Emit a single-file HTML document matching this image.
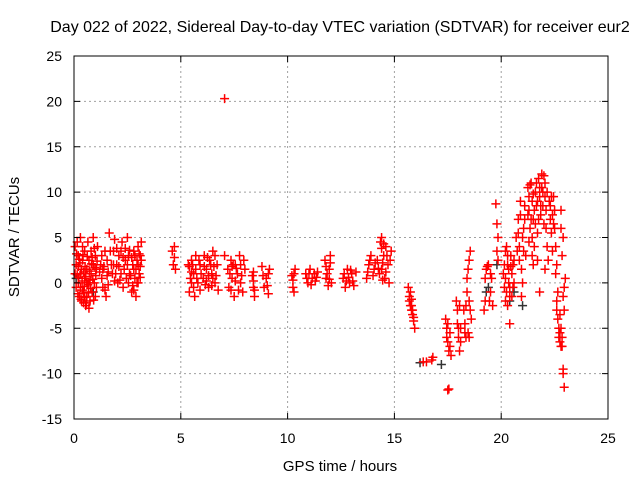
<!DOCTYPE html>
<html><head><meta charset="utf-8"><style>
body{margin:0;background:#fff}
svg{display:block;font-family:"Liberation Sans",sans-serif}
</style></head><body>
<svg width="640" height="480">
<rect width="640" height="480" fill="#fff"/>
<g id="grid"></g><g id="pts"></g><g id="axes"></g>
<text x="340" y="32" font-size="16" text-anchor="middle">Day 022 of 2022, Sidereal Day-to-day VTEC variation (SDTVAR) for receiver eur2</text>
<text x="340" y="471" font-size="15" text-anchor="middle">GPS time / hours</text>
<text x="0" y="0" font-size="15" text-anchor="middle" transform="translate(19,237) rotate(-90)">SDTVAR / TECUs</text>
</svg>
<script>
const xTicks=[0,5,10,15,20,25];
const yTicks=[-15,-10,-5,0,5,10,15,20,25];
const blackPts=[[0.1,0.5],[0.9,-1],[17.2,-9],[16.2,-8.8],[19.3,-1],[19.4,-0.5],[20.4,-2],[20.6,-1],[21,-2.5],[19.8,2]];
const redPts=[
[0.05,1],[0.05,4],[0.1,-0.5],[0.1,2],[0.15,4.5],[0.2,0],[0.2,3],[0.25,-1.5],[0.3,1],[0.3,5],[0.35,-2],[0.4,2.5],[0.4,4],[0.45,-1],[0.5,0.5],[0.5,3.5],[0.55,-2.5],[0.6,1.5],[0.6,-1.5],[0.65,4.5],[0.7,0],[0.7,2.5],[0.75,-2],[0.8,3.5],[0.8,1],[0.85,-1],[0.9,2],[0.9,5],[0.95,0],[1,3],[1,-1.5],[1.05,1.5],[1.1,4],[0.3,-0.5],[0.6,0],[0.2,1.8],[0.45,1.2],[0.75,0.3],[0.85,2.8],[1.05,-0.5],
[1.25,2],[1.35,-0.5],[1.45,3.5],[1.55,0.8],[1.65,5.5],[1.75,2],[1.5,-1.5],[1.3,0.5],
[1.8,1],[1.85,3.5],[1.9,4.8],[2,2],[2.05,0],[2.1,3],[2.2,1],[2.25,4.5],[2.3,-0.5],[2.4,2.5],[2.45,0.5],[2.5,5],[2.55,3],[2.6,1],
[2.7,-1],[2.75,2],[2.8,3.5],[2.85,0.5],[2.9,-1.5],[2.95,2.5],[3,4],[3.05,1],[3.1,3],[3.15,4.5],[3,0],[2.8,1.5],
[4.6,3.5],[4.65,2],[4.7,4],[4.75,1.5],[4.7,2.8],
[5.35,2],[5.4,-1],[5.45,0.5],[5.5,2.5],[5.6,1],[5.65,-1.5],[5.7,3],[5.8,0],[5.9,2],[5.95,1],
[6.05,0.5],[6.1,3],[6.2,1.5],[6.3,-0.5],[6.35,2.5],[6.45,1],[6.5,3.5],[6.6,0],[6.7,2],[6.75,-0.8],[7.05,20.3],
[7.2,1.5],[7.25,-0.5],[7.35,2.5],[7.4,0.5],[7.5,-1.5],[7.55,2],[7.65,1],[7.75,3],[7.8,0],[7.9,-1],[8,1.5],[7.05,3],
[8.35,0.8],[8.4,-0.5],[8.45,-1.5],[8.4,1.2],[8.8,1.8],[8.9,-0.5],[9,0.5],[9.1,-1.2],[9.15,1.5],
[10.2,0.8],[10.25,-0.5],[10.3,-1],[10.35,1.5],[10.85,1],[10.95,0],[11.05,1.5],[11.15,0.5],[11.3,0.2],[11.4,1.2],
[11.75,2.5],[11.8,0.5],[11.9,-0.3],[11.95,1.5],[12,3],[12.05,0],
[12.6,0.5],[12.7,-0.5],[12.8,1.5],[12.9,0],[13,1],[13.1,-0.3],[13.2,1.2],
[13.7,0.5],[13.8,2],[13.9,3],[14.05,1.5],[14.2,2.5],[14.3,1],[14.35,4.5],[14.4,5],[14.5,3],[14.55,0.5],[14.6,4],[14.7,2],[14.75,0],[14.85,3.5],[14.4,1.5],
[15.65,-0.5],[15.7,-1.5],[15.75,-2.5],[15.8,-3],[15.85,-3.5],[15.9,-4.2],[15.95,-5],[15.8,-1.8],
[16.35,-8.7],[16.5,-8.7],[16.75,-8.5],[16.8,-8.2],[17.5,-11.8],[17.55,-11.7],
[17.4,-4],[17.45,-5],[17.5,-6.5],[17.55,-7.5],[17.6,-5.5],[17.65,-8],
[17.9,-2],[17.95,-4.5],[18,-6],[18.05,-7.5],[18.1,-5],[18.05,-2.5],
[18.25,-3],[18.3,-5.5],[18.35,-6],[18.4,-1],[18.45,1.5],[18.5,2.5],[18.55,3.5],[18.6,-4],[18.5,-2],
[19.2,-3],[19.25,-2],[19.3,1.5],[19.4,2],[19.5,-1],[19.6,-2.5],[19.55,0.5],
[19.75,8.7],[19.8,6.5],[19.85,5],[19.8,3.5],[19.85,2.5],
[20.1,1],[20.15,-0.5],[20.2,-2],[20.25,4],[20.3,2],[20.35,0],[20.4,-1.5],[20.45,3],[20.5,1],[20.55,-0.5],[20.6,2.5],[20.4,-4.5],
[20.7,5],[20.75,3.5],[20.8,7],[20.85,4],[20.9,9],[20.95,1.5],[21,0],[21.05,6],[21.1,8.5],[21.15,3],[20.95,-1.5],
[21.25,10.5],[21.3,8],[21.35,6],[21.4,11],[21.45,9],[21.5,7],[21.55,4],[21.6,10],[21.65,8.5],[21.7,5.5],[21.75,11.5],[21.8,9.5],[21.85,7.5],[21.9,12],[21.95,10],[22,6.5],[22.05,11],[22.1,8],[22.15,4],[22.2,2.5],[21.5,2],[21.8,-1],
[22.25,9],[22.3,7],[22.35,5.5],[22.4,3.5],[22.45,9.5],[22.5,6],[22.55,1],[22.6,-2],[22.65,-4],
[22.7,-5],[22.75,-6.5],[22.8,-7],[22.85,-6],[22.9,-9.5],[22.95,-11.5],[22.95,-3],[23,0.5],[22.9,5],[22.8,8]
];
const redPtsExtra=[
[0.12,3.2],[0.18,-1.2],[0.22,0.6],[0.28,2.2],[0.33,-1.8],[0.38,0.2],[0.42,3.1],[0.48,-0.4],[0.52,1.8],[0.58,-2.2],[0.62,2.9],[0.68,-1.1],[0.72,1.3],[0.78,-0.6],[0.82,2.1],[0.88,0.4],[0.92,-1.9],[0.98,1.7],[1.02,0.8],[1.08,2.4],[0.15,0.9],[0.35,1.5],[0.55,0.7],[0.65,-0.2],[0.25,2.6],[0.45,-2.2],[0.7,-2.8],[0.5,-1.6],[0.95,3.8],[0.4,-0.8],
[1.2,1.2],[1.3,3],[1.4,1.8],[1.45,-0.8],[1.55,2.5],[1.6,-0.2],[1.7,3.5],[1.35,1.5],[1.6,1.2],
[1.85,2],[1.95,1],[2,3.8],[2.1,1.8],[2.15,0.3],[2.2,3.5],[2.35,1.5],[2.4,3.8],[2.5,2],[2.55,0],[2.6,3.6],[1.9,0.2],[2.3,2.8],
[2.65,0.8],[2.7,2.8],[2.75,-0.3],[2.85,3],[2.9,1.5],[2.95,0],[3,2],[3.05,3.2],[3.1,1.8],[3.15,2.5],[2.8,-0.8],[3.1,0.6],
[5.4,1.8],[5.5,0],[5.55,2],[5.6,-0.5],[5.7,1.5],[5.75,0.5],[5.85,2.5],[5.9,-0.8],[5.5,1.2],
[6.1,1.8],[6.15,-0.2],[6.25,2.8],[6.3,0.8],[6.4,2],[6.45,-0.3],[6.55,1.8],[6.6,3],[6.65,0.8],[6.2,0.2],[6.5,0.5],
[7.3,1],[7.35,-0.8],[7.45,2],[7.55,0.2],[7.6,1.6],[7.7,-0.8],[7.8,2],[7.85,0.8],[7.95,2.5],[7.4,1.8],
[8.4,0.2],[8.45,-0.8],[8.85,0.8],[9.05,-0.3],[9.1,1],
[10.25,0.3],[10.3,1],[10.9,0.5],[11,1],[11.1,-0.2],[11.25,1],[11.35,0.6],
[11.8,1.8],[11.85,1],[11.95,0.4],[12,2.2],[12.65,1],[12.75,0.2],[12.85,0.6],[12.95,1.4],[13.05,0.2],
[13.75,1.2],[13.85,2.5],[14,0.8],[14.1,2.2],[14.25,1.6],[14.4,3.8],[14.45,2.2],[14.5,4.3],[14.6,1.2],[14.65,3],[14.8,2.5],[14.45,0.3],
[15.7,-2],[15.75,-1],[15.8,-2.5],[15.85,-3],[15.9,-3.8],
[17.45,-6],[17.5,-4.5],[17.6,-7],[17.95,-3],[18,-5],[18.1,-6.5],[18.3,-4.5],[18.35,-2.5],[18.4,0.5],[18.45,-5.5],[18.55,-3],[18.5,-6],
[19.25,0.5],[19.35,1.8],[19.45,-2],[19.5,1],
[20.15,2],[20.2,0.5],[20.25,-1],[20.3,3],[20.35,1.5],[20.4,-0.5],[20.45,1.8],[20.5,-1.5],[20.55,2],[20.6,0],[20.3,-2.5],[20.2,3.5],
[20.8,5.5],[20.85,2.5],[20.9,7.5],[21,5],[21.05,3.5],[21.1,7],
[21.25,7.5],[21.3,9.5],[21.35,10.8],[21.4,7],[21.45,5],[21.5,9.8],[21.55,8],[21.6,6.5],[21.65,11],[21.7,9],[21.75,7],[21.8,10.5],[21.85,8.5],[21.9,10.5],[21.95,8.5],[22,11.8],[22.05,9.5],[22.1,6],[22.15,10],[21.3,4.5],[21.45,3],[21.7,2.5],[22.05,1.5],
[22.3,8.5],[22.35,9.5],[22.4,7.5],[22.45,6.5],[22.5,8],[22.55,4],[22.6,2],[22.65,-1],[22.6,-3],
[22.7,-6],[22.75,-5.5],[22.8,-5],[22.85,-7],[22.75,-3.5],[22.9,-10],[22.9,-1.5],[22.95,-0.5],[22.85,3],[22.8,6]
];
const NS="http://www.w3.org/2000/svg";
const X0=74,X1=608,Y0=419,Y1=56;
function sx(t){return X0+(t-0)/(25-0)*(X1-X0);}
function sy(v){return Y0-(v+15)/(40)*(Y0-Y1);}
const grid=document.getElementById('grid'),axes=document.getElementById('axes'),pts=document.getElementById('pts');
function mk(tag,attrs,parent){const e=document.createElementNS(NS,tag);for(const k in attrs)e.setAttribute(k,attrs[k]);parent.appendChild(e);return e;}
xTicks.forEach(t=>{const x=sx(t);
 if(t>0&&t<25){const g=mk('line',{x1:x,x2:x,y1:Y1,y2:Y0,stroke:'#a0a0a0','stroke-dasharray':'2,3'},grid);
 
 }
 mk('line',{x1:x,x2:x,y1:Y0,y2:Y0-6,stroke:'#000'},axes);
 mk('line',{x1:x,x2:x,y1:Y1,y2:Y1+6,stroke:'#000'},axes);
 const l=mk('text',{x:x,y:443,'font-size':14,'text-anchor':'middle'},axes);l.textContent=t;
 
 
});
yTicks.forEach(v=>{const y=sy(v);
 if(v>-15&&v<25){const g=mk('line',{x1:X0,x2:X1,y1:y,y2:y,stroke:'#a0a0a0','stroke-dasharray':'2,3'},grid);
 
 }
 mk('line',{x1:X0,x2:X0+6,y1:y,y2:y,stroke:'#000'},axes);
 mk('line',{x1:X1,x2:X1-6,y1:y,y2:y,stroke:'#000'},axes);
 const l=mk('text',{x:62,y:y+5,'font-size':14,'text-anchor':'end'},axes);l.textContent=v;
 
 
});
mk('line',{x1:sx(0),x2:sx(0),y1:Y1,y2:Y0,stroke:'#000'},axes);
const fr=mk('rect',{x:X0,y:Y1,width:X1-X0,height:Y0-Y1,fill:'none',stroke:'#000'},axes);


function cross(p,col,name){const x=sx(p[0]),y=sy(p[1]);
 const e=mk('path',{d:`M${x-4.5},${y}H${x+4.5}M${x},${y-4.5}V${y+4.5}`,stroke:col,'stroke-width':1.5,fill:'none'},pts);
 
 }
blackPts.forEach(p=>cross(p,'#333','black-point'));
redPts.forEach(p=>cross(p,'#ff0000','sdtvar-point'));
redPtsExtra.forEach(p=>cross(p,'#ff0000','sdtvar-point'));
</script>
</body></html>
